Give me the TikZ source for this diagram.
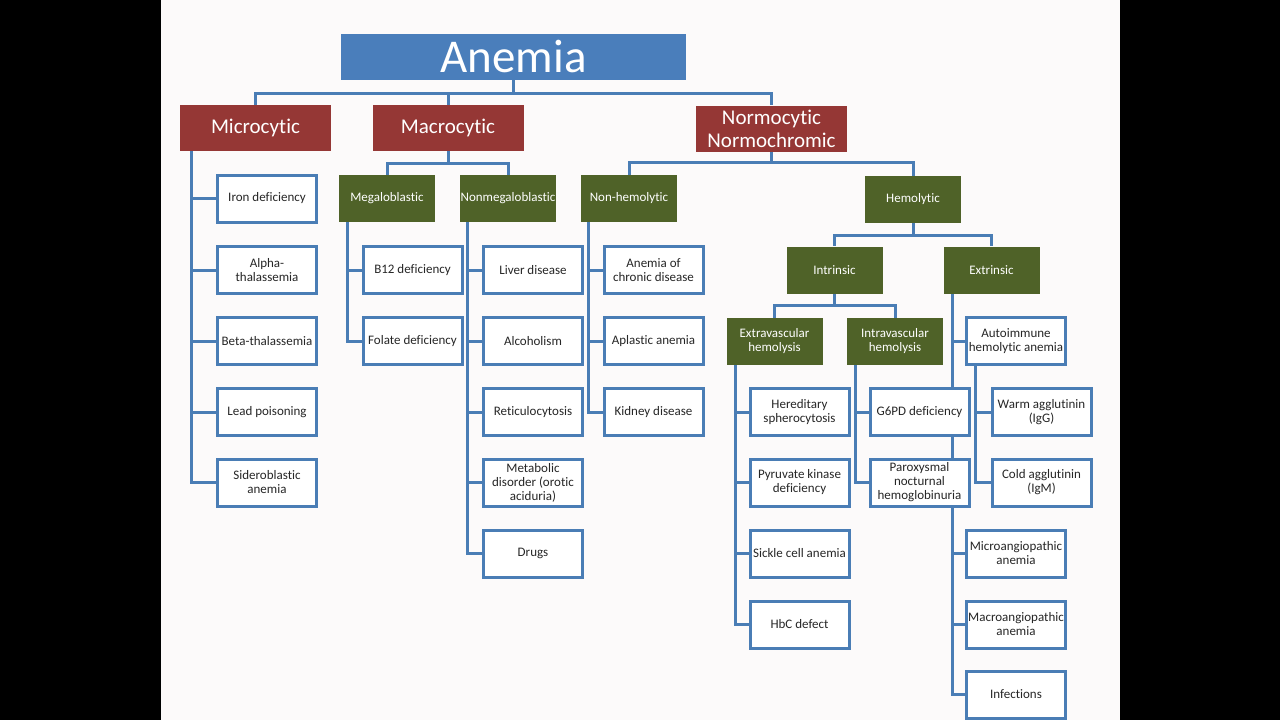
\documentclass[tikz,border=0pt]{standalone}
\usepackage{fontspec}
\setmainfont{Carlito}[Ligatures={NoCommon}]
\definecolor{rootblue}{HTML}{4A7EBB}
\definecolor{kindred}{HTML}{953735}
\definecolor{groupgreen}{HTML}{4F6228}
\definecolor{linkblue}{HTML}{4A7DB5}
\definecolor{slide}{HTML}{FCFAFA}
\pgfdeclarelayer{back}
\pgfsetlayers{back,main}
\begin{document}
\begin{tikzpicture}[x=1pt,y=-1pt,
	root/.style={fill=rootblue,text=white,inner sep=0,minimum width=345,minimum height=46,font=\fontsize{47}{50}\selectfont},
	kind/.style={fill=kindred,text=white,inner sep=0,align=center,minimum width=151,minimum height=46,font=\fontsize{21}{23}\selectfont},
	group/.style={fill=groupgreen,text=white,inner sep=0,align=center,minimum width=96,minimum height=47,font=\fontsize{13}{14}\selectfont},
	leaf/.style={draw=linkblue,line width=3,fill=white,text=black!85,inner sep=0,align=center,minimum width=99,minimum height=47,font=\fontsize{13}{14}\selectfont},
	link/.style={draw=linkblue,line width=3}]
	\useasboundingbox(0,0)rectangle(1280,720);
	% heads
	\node[root](anemia)at(513.5,57){Anemia};
	\node[kind](micro)at(255.5,128){Microcytic};
	\node[kind](macro)at(448,128){Macrocytic};
	\node[kind](normo)at(771.5,128.5){Normocytic\\Normochromic};
	\node[group](megalo)at(387,198.5){Megaloblastic};
	\node[group](nonmegalo)at(508,198.5){Nonmegaloblastic};
	\node[group](nonhemo)at(629,198.5){Non-hemolytic};
	\node[group](hemo)at(913,199.5){Hemolytic};
	\node[group](intrinsic)at(834.5,270){Intrinsic};
	\node[group](extrinsic)at(991.5,270){Extrinsic};
	\node[group](extravasc)at(774.5,341.5){Extravascular\\hemolysis};
	\node[group](intravasc)at(895,341.5){Intravascular\\hemolysis};
	% leaves
	\foreach \n/\y/\t in {iron/198.5/Iron deficiency,alpha/270/Alpha-\\thalassemia,beta/341/Beta-thalassemia,lead/412/Lead poisoning,sidero/482.5/Sideroblastic\\anemia}
		\node[leaf](\n)at(267,\y){\t};
	\foreach \n/\y/\t in {btwelve/270/B12 deficiency,folate/341/Folate deficiency}
		\node[leaf](\n)at(412.5,\y){\t};
	\foreach \n/\y/\t in {liver/270/Liver disease,alcohol/341/Alcoholism,reticulo/412/Reticulocytosis,metabolic/482.5/Metabolic\\disorder (orotic\\aciduria),drugs/553.5/Drugs}
		\node[leaf](\n)at(533,\y){\t};
	\foreach \n/\y/\t in {chronic/270/Anemia of\\chronic disease,aplastic/341/Aplastic anemia,kidney/412/Kidney disease}
		\node[leaf](\n)at(653.5,\y){\t};
	\foreach \n/\y/\t in {sphero/412/Hereditary\\spherocytosis,pyruvate/482.5/Pyruvate kinase\\deficiency,sickle/553.5/Sickle cell anemia,hbc/624.5/HbC defect}
		\node[leaf](\n)at(799.5,\y){\t};
	\foreach \n/\y/\t in {gsixpd/412/G6PD deficiency,pnh/482.5/Paroxysmal\\nocturnal\\hemoglobinuria}
		\node[leaf](\n)at(919.5,\y){\t};
	\foreach \n/\y/\t in {autoimm/341/Autoimmune\\hemolytic anemia,microang/553.5/Microangiopathic\\anemia,macroang/624.5/Macroangiopathic\\anemia,infect/694.5/Infections}
		\node[leaf](\n)at(1016,\y){\t};
	\foreach \n/\y/\t in {warm/412/Warm agglutinin\\(IgG),cold/482.5/Cold agglutinin\\(IgM)}
		\node[leaf](\n)at(1041.5,\y){\t};
	% connectors, behind the boxes
	\begin{pgfonlayer}{back}
		\fill(0,0)rectangle(1280,720);
		\fill[slide](161,0)rectangle(1120,720);
		\foreach \n in {micro,macro,normo}
			\draw[link](anemia.south)--++(0,13)-|(\n.north);
		\foreach \n in {megalo,nonmegalo}
			\draw[link](macro.south)--++(0,12)-|(\n.north);
		\foreach \n in {nonhemo,hemo}
			\draw[link](normo.south)--++(0,11)-|(\n.north);
		\foreach \n in {intrinsic,extrinsic}
			\draw[link](hemo.south)--++(0,12)-|(\n.north);
		\foreach \n in {extravasc,intravasc}
			\draw[link](intrinsic.south)--++(0,12)-|(\n.north);
		\foreach \n in {iron,alpha,beta,lead,sidero}
			\draw[link]([xshift=12]micro.south west)|-(\n.west);
		\foreach \n in {btwelve,folate}
			\draw[link]([xshift=9]megalo.south west)|-(\n.west);
		\foreach \n in {liver,alcohol,reticulo,metabolic,drugs}
			\draw[link]([xshift=8]nonmegalo.south west)|-(\n.west);
		\foreach \n in {chronic,aplastic,kidney}
			\draw[link]([xshift=8]nonhemo.south west)|-(\n.west);
		\foreach \n in {sphero,pyruvate,sickle,hbc}
			\draw[link]([xshift=9]extravasc.south west)|-(\n.west);
		\foreach \n in {gsixpd,pnh}
			\draw[link]([xshift=9]intravasc.south west)|-(\n.west);
		\foreach \n in {autoimm,microang,macroang,infect}
			\draw[link]([xshift=9]extrinsic.south west)|-(\n.west);
		\foreach \n in {warm,cold}
			\draw[link]([xshift=10]autoimm.south west)|-(\n.west);
	\end{pgfonlayer}
\end{tikzpicture}
\end{document}
